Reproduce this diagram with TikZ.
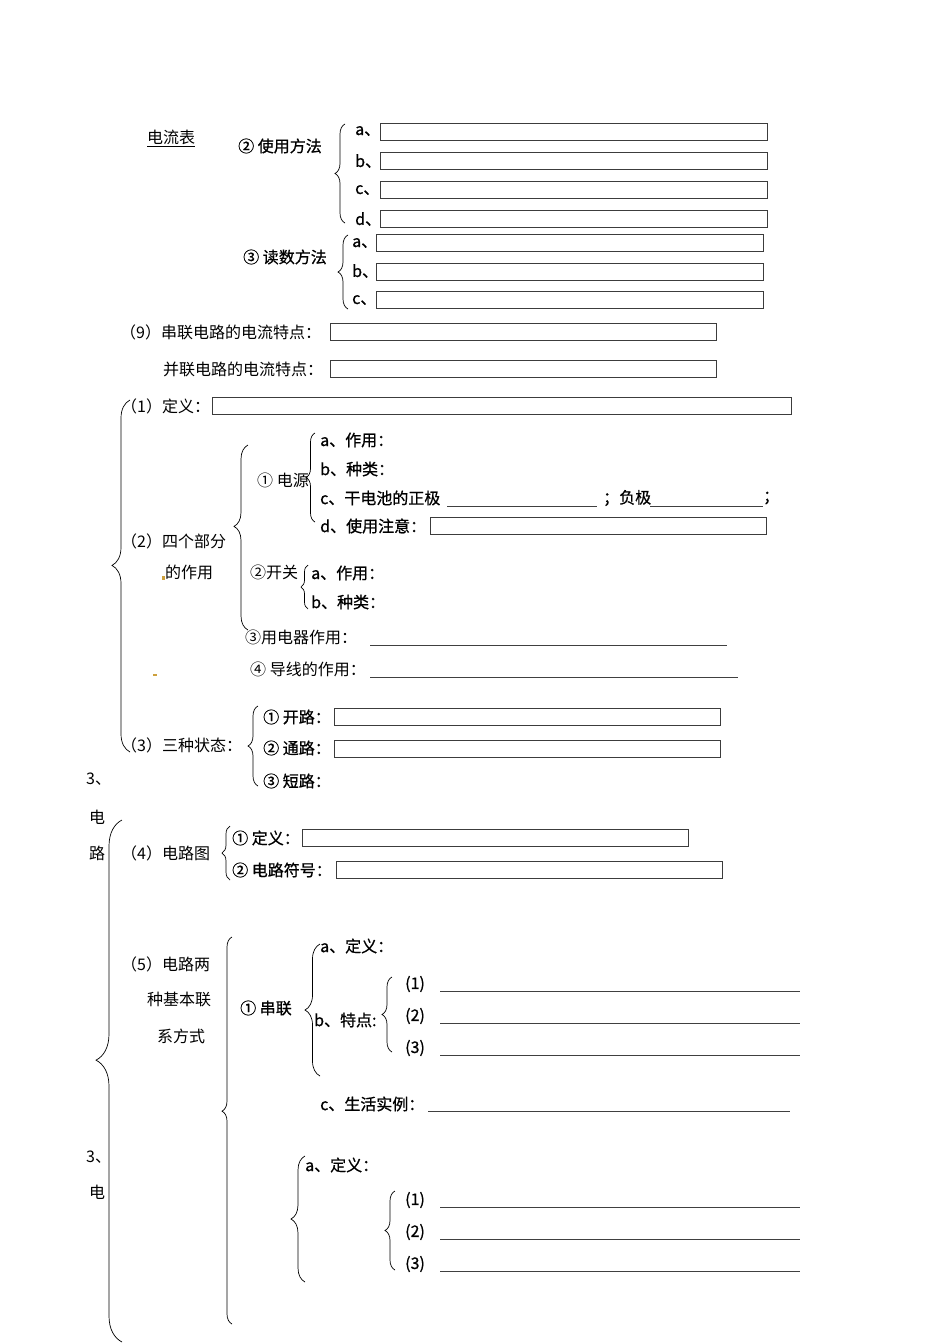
\documentclass[tikz,border=0pt]{standalone}
\usepackage{fontspec}
\newfontfamily\cjk{Noto Sans CJK SC}
\newfontfamily\hei[FakeBold=0.8]{Noto Sans CJK SC}
\usetikzlibrary{decorations.pathreplacing, positioning}
\definecolor{boxline}{RGB}{60, 60, 60}
\definecolor{dotmark}{RGB}{205, 160, 60}

\begin{document}
\begin{tikzpicture}[x=1pt, y=-1pt,
    every node/.style={font=\cjk\fontsize{16}{19}\selectfont, inner sep=0pt, anchor=west},
    hb/.style={font=\hei\fontsize{16}{19}\selectfont},
    ansbox/.style={draw=boxline, line width=1pt, minimum height=17pt, inner sep=0pt, anchor=north west},
    fillline/.style={draw=black!75, line width=0.9pt},
    brc/.style={decorate, decoration={brace, amplitude=#1}, line width=0.7pt}]
    \useasboundingbox (0,0) rectangle (950,1344);

    % Ammeter: usage
    \node (amm) at (147,137) {电流表};
    \draw[line width=0.6pt] ([yshift=-2pt]amm.south west) -- ([yshift=-2pt]amm.south east);
    \node[hb] (use) at (238,146) {② 使用方法};
    \draw[brc=10pt] (345,223) -- (345,124);
    \node[hb] (ua) at (355,131) {a、};
    \node[hb] (ub) at (355,161) {b、};
    \node[hb] (uc) at (355,190) {c、};
    \node[hb] (ud) at (355,219) {d、};
    \foreach \n/\y in {a/123, b/152, c/181, d/210}
        \node[ansbox, minimum width=387pt] (ubox\n) at (380,\y) {};

    % Ammeter: reading
    \node[hb] (read) at (243,257) {③ 读数方法};
    \draw[brc=10pt] (348,309) -- (348,235);
    \node[hb] (ra) at (352,243) {a、};
    \node[hb] (rb) at (352,271) {b、};
    \node[hb] (rc) at (352,300) {c、};
    \foreach \n/\y in {a/234, b/263, c/291}
        \node[ansbox, minimum width=387pt] (rbox\n) at (376,\y) {};

    % (9) current in series / parallel
    \node (ser) at (120,332) {（9）串联电路的电流特点：};
    \node[ansbox, minimum width=386pt] (serbox) at (330,323) {};
    \node (par) at (163,369) {并联电路的电流特点：};
    \node[ansbox, minimum width=386pt] (parbox) at (330,360) {};

    % (1) definition
    \draw[brc=18pt, decoration={aspect=0.53}] (130,752) -- (130,400);
    \node (def) at (121,406) {（1）定义：};
    \node[ansbox, minimum width=579pt] (defbox) at (212,397) {};

    % (2) four parts
    \node (four) at (121,541) {（2）四个部分};
    \node (four2) at (165,572) {的作用};
    \fill[dotmark] (162,576) rectangle (165,580);
    \fill[dotmark] (153,674) rectangle (157,676);
    \draw[brc=14pt, decoration={aspect=0.56}] (248,630) -- (248,445);

    \node (pow) at (257,480) {① 电源};
    \draw[brc=9pt] (315,522) -- (315,433);
    \node[hb] (powa) at (320,440) {a、作用：};
    \node[hb] (powb) at (320,469) {b、种类：};
    \node[hb] (powc) at (320,498) {c、干电池的正极};
    \draw[fillline] (447,506) -- (597,506);
    \node[hb] (neg) at (603,498) {；负极};
    \draw[fillline] (650,506) -- (763,506);
    \node[hb] (semi) at (763,498) {；};
    \node[hb] (powd) at (320,526) {d、使用注意：};
    \node[ansbox, minimum width=336pt] (powbox) at (430,517) {};

    \node (sw) at (250,572) {②开关};
    \draw[brc=7pt] (308,609) -- (308,565);
    \node[hb] (swa) at (311,573) {a、作用：};
    \node[hb] (swb) at (311,602) {b、种类：};

    \node (load) at (245,637) {③用电器作用：};
    \draw[fillline] (370,645) -- (727,645);
    \node (wire) at (250,669) {④ 导线的作用：};
    \draw[fillline] (370,677) -- (738,677);

    % (3) three states
    \node (state) at (121,745) {（3）三种状态：};
    \draw[brc=10pt] (258,786) -- (258,706);
    \node[hb] (open) at (263,717) {① 开路：};
    \node[ansbox, minimum width=386pt] (openbox) at (334,708) {};
    \node[hb] (closed) at (263,748) {② 通路：};
    \node[ansbox, minimum width=386pt] (closedbox) at (334,740) {};
    \node[hb] (short) at (263,781) {③ 短路：};

    % side title
    \node (t1) at (86,779) {3、};
    \node (t2) at (89,817) {电};
    \node (t3) at (89,853) {路};
    \draw[brc=26pt, decoration={aspect=0.54}] (122,1342) -- (122,820);

    % (4) circuit diagram
    \node (diag) at (121,853) {（4）电路图};
    \draw[brc=8pt] (230,880) -- (230,826);
    \node[hb] (ddef) at (232,838) {① 定义：};
    \node[ansbox, minimum width=386pt] (ddefbox) at (302,829) {};
    \node[hb] (dsym) at (232,870) {② 电路符号：};
    \node[ansbox, minimum width=386pt] (dsymbox) at (336,861) {};

    % (5) two connections
    \node (conn) at (121,964) {（5）电路两};
    \node (conn2) at (147,999) {种基本联};
    \node (conn3) at (157,1036) {系方式};
    \draw[brc=10pt, decoration={aspect=0.55}] (232,1324) -- (232,937);

    \node[hb] (sc) at (240,1008) {① 串联};
    \draw[brc=15pt] (320,1076) -- (320,944);
    \node[hb] (sca) at (320,946) {a、定义：};
    \node[hb] (scb) at (314,1020) {b、特点:};
    \draw[brc=10pt] (392,1052) -- (392,977);
    \foreach \k/\y in {1/984, 2/1016, 3/1048} {
        \node[hb] (sp\k) at (405,\y) {(\k)};
        \draw[fillline] (440,{\y+7}) -- (800,{\y+7});
    }
    \node[hb] (scc) at (320,1104) {c、生活实例：};
    \draw[fillline] (428,1111) -- (790,1111);

    % lower copy
    \node (t4) at (86,1157) {3、};
    \node (t5) at (89,1192) {电};
    \draw[brc=14pt] (305,1282) -- (305,1156);
    \node[hb] (pa) at (305,1165) {a、定义：};
    \draw[brc=10pt] (395,1270) -- (395,1191);
    \foreach \k/\y in {1/1200, 2/1232, 3/1264} {
        \node[hb] (pp\k) at (405,\y) {(\k)};
        \draw[fillline] (440,{\y+7}) -- (800,{\y+7});
    }
\end{tikzpicture}
\end{document}
